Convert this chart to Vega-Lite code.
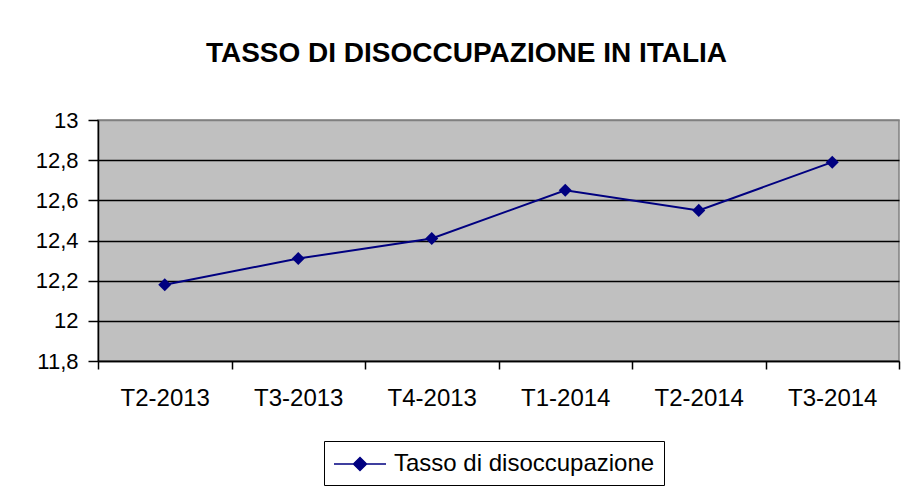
{
  "$schema": "https://vega.github.io/schema/vega-lite/v6.json",
  "autosize": {"type": "none"},
  "padding": {"left": 98, "top": 120, "right": 5, "bottom": 125},
  "width": 801,
  "height": 241,
  "background": "white",
  "title": {
    "text": "TASSO DI DISOCCUPAZIONE IN ITALIA",
    "font": "Liberation Sans",
    "fontSize": 28,
    "fontWeight": "bold",
    "color": "black",
    "anchor": "middle",
    "baseline": "alphabetic",
    "dx": -32,
    "offset": 19
  },
  "config": {
    "view": {"fill": "#C0C0C0", "stroke": "#808080", "strokeWidth": 1.5},
    "axis": {"labelFont": "Liberation Sans", "labelColor": "black", "titleFont": "Liberation Sans"},
    "legend": {"labelFont": "Liberation Sans"}
  },
  "data": {
    "values": [
      {"trimestre": "T2-2013", "tasso": 12.18, "serie": "Tasso di disoccupazione"},
      {"trimestre": "T3-2013", "tasso": 12.31, "serie": "Tasso di disoccupazione"},
      {"trimestre": "T4-2013", "tasso": 12.41, "serie": "Tasso di disoccupazione"},
      {"trimestre": "T1-2014", "tasso": 12.65, "serie": "Tasso di disoccupazione"},
      {"trimestre": "T2-2014", "tasso": 12.55, "serie": "Tasso di disoccupazione"},
      {"trimestre": "T3-2014", "tasso": 12.79, "serie": "Tasso di disoccupazione"}
    ]
  },
  "encoding": {
    "x": {
      "field": "trimestre",
      "type": "nominal",
      "sort": null,
      "scale": {"type": "band", "paddingInner": 0, "paddingOuter": 0},
      "axis": {
        "title": null,
        "labelAngle": 0,
        "labelFontSize": 24,
        "labelPadding": 17,
        "tickSize": 8,
        "tickColor": "black",
        "tickWidth": 1.5,
        "tickBand": "extent",
        "domainColor": "black",
        "domainWidth": 1.5,
        "grid": false
      }
    },
    "y": {
      "field": "tasso",
      "type": "quantitative",
      "scale": {"domain": [11.8, 13], "nice": false, "zero": false},
      "axis": {
        "title": null,
        "values": [11.8, 12, 12.2, 12.4, 12.6, 12.8, 13],
        "format": ".1~f",
        "labelExpr": "replace(datum.label, '.', ',')",
        "labelFontSize": 22,
        "labelPadding": 10,
        "tickSize": 10,
        "tickColor": "black",
        "tickWidth": 1.5,
        "domainColor": "black",
        "domainWidth": 1.5,
        "grid": true,
        "gridColor": {"condition": {"test": "datum.value >= 13", "value": "#808080"}, "value": "black"},
        "gridWidth": 1.5,
        "gridOpacity": 1
      }
    }
  },
  "layer": [
    {
      "mark": {"type": "line", "color": "#000080", "strokeWidth": 2}
    },
    {
      "mark": {"type": "point", "shape": "diamond", "filled": true, "size": 170, "opacity": 1},
      "encoding": {
        "color": {
          "field": "serie",
          "type": "nominal",
          "scale": {"range": ["#000080"]},
          "legend": {
            "title": null,
            "orient": "none",
            "legendX": 226,
            "legendY": 321,
            "padding": 9,
            "strokeColor": "black",
            "fillColor": "white",
            "labelFontSize": 24,
            "labelColor": "black",
            "labelLimit": 500,
            "labelOffset": 33,
            "symbolType": "M-1,0L3,0M1,-0.5L1.5,0L1,0.5L0.5,0Z",
            "symbolSize": 676,
            "symbolFillColor": "#000080",
            "symbolStrokeColor": "#000080",
            "symbolStrokeWidth": 1.5,
            "symbolOpacity": 1
          }
        }
      }
    }
  ]
}
